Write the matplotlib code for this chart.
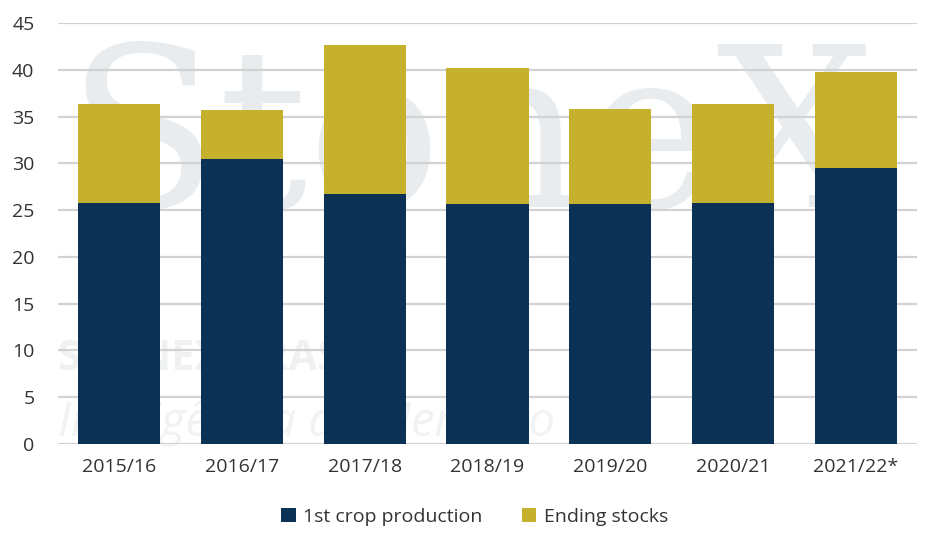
import matplotlib.pyplot as plt
import numpy as np

seasons = ['2015/16', '2016/17', '2017/18', '2018/19', '2019/20', '2020/21', '2021/22*']
first_crop = [25.8, 30.5, 26.7, 25.7, 25.7, 25.8, 29.5]  # 1st crop production
ending_stocks = [10.5, 5.2, 16.0, 14.5, 10.1, 10.5, 10.3]  # stacked on top
y_ticks = [0, 5, 10, 15, 20, 25, 30, 35, 40, 45]

navy = '#0B3255'
gold = '#C5B12E'

plt.rcParams['font.family'] = ['Open Sans', 'DejaVu Sans']
plt.rcParams['font.size'] = 14

fig = plt.figure(figsize=(9.4, 5.49), dpi=100)
ax = fig.add_axes([0.0617, 0.1913, 0.9138, 0.7668])

# faint watermark behind everything
ax.text(0.01, 0.71, 'StoneX', transform=ax.transAxes, family='DejaVu Serif',
        fontsize=160, color='#E8ECEE', va='center', ha='left', zorder=0)
ax.text(0.0, 0.2, 'STONEX BRASIL', transform=ax.transAxes, fontsize=30,
        fontweight='bold', color='#EFF1F2', va='center', ha='left', zorder=0)
ax.text(0.0, 0.05, 'Inteligência de Mercado', transform=ax.transAxes, fontsize=34,
        style='italic', color='#F1F2F3', va='center', ha='left', zorder=0)

x = np.arange(len(seasons))
ax.bar(x, first_crop, width=0.67, color=navy, label='1st crop production', zorder=3)
ax.bar(x, ending_stocks, width=0.67, bottom=first_crop, color=gold,
       label='Ending stocks', zorder=3)

ax.set_xlim(-0.5, len(seasons) - 0.5)
ax.set_ylim(0, 45)
ax.set_yticks(y_ticks)
ax.set_xticks(x)
ax.set_xticklabels(seasons)
ax.yaxis.grid(True, color='#D2D2D2', linewidth=1.6, zorder=1)
ax.set_axisbelow(True)
for s in ax.spines.values():
    s.set_visible(False)
ax.tick_params(axis='both', length=0, colors='#333333', labelsize=14)
ax.tick_params(axis='y', pad=17)
ax.tick_params(axis='x', pad=10)

fig.legend(loc='center', bbox_to_anchor=(0.505, 0.058), ncol=2, frameon=False,
           handlelength=0.75, handleheight=0.75, handletextpad=0.4,
           columnspacing=2.0, fontsize=14, labelcolor='#333333')

fig.savefig('out.png', dpi=100)
